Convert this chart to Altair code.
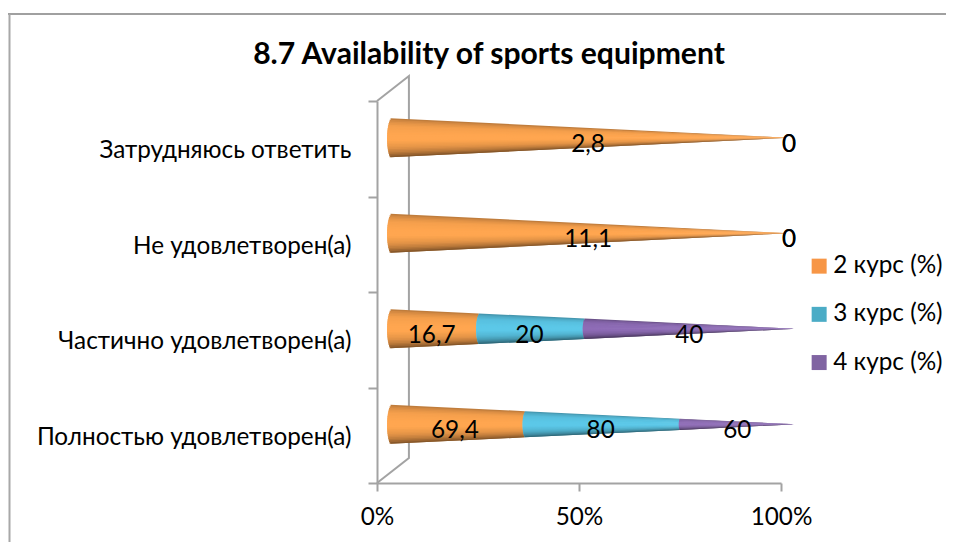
import math
import altair as alt
import pandas as pd

categories = ["Затрудняюсь ответить", "Не удовлетворен(а)", "Частично удовлетворен(а)", "Полностью удовлетворен(а)"]
series = ["2 курс (%)", "3 курс (%)", "4 курс (%)"]
course2 = [2.8, 11.1, 16.7, 69.4]
course3 = [0, 0, 20, 80]
course4 = [0, 0, 40, 60]
value_labels = [["2,8", "0", "0"], ["11,1", "0", "0"], ["16,7", "20", "40"], ["69,4", "80", "60"]]
legend_colors = ["#F79646", "#4BACC6", "#8064A2"]
bright = [(255, 166, 80), (92, 200, 232), (142, 108, 182)]
x_ticks = [0, 0.5, 1]

FONT = "Lato"
FS = 24.3
AXIS = "#A3A3A3"
CONE_START = 0.025
TIP_FULL = 1.037
TIP_SHORT = 1.02
BASE_R = 0.205      # radius in row units
ROW_SHIFT = 0.115   # depth offset in row units
BULGE = 0.012
N = 24
profile = [(-1, .72), (-.85, .85), (-.6, .96), (-.2, 1.0), (.15, 1.0), (.5, .9), (.75, .75), (.92, .58), (1, .48)]


def shade(f):
    for (a, sa), (b, sb) in zip(profile, profile[1:]):
        if a <= f <= b:
            return sa + (sb - sa) * (f - a) / (b - a)
    return 1


rows, labels = [], []
for i, cat in enumerate(categories):
    vals = [course2[i], course3[i], course4[i]]
    tip = TIP_FULL if vals[2] > 0 else TIP_SHORT
    total = sum(vals)
    yc = (len(categories) - 1 - i) + 0.5 + ROW_SHIFT
    cum = 0
    for s, v in enumerate(vals):
        t0, t1 = cum / total, (cum + v) / total
        cum += v
        tm = (t0 + t1) / 2
        labels.append({"x": CONE_START + (tip - CONE_START) * tm, "y": yc, "label": value_labels[i][s]})
        if v == 0:
            continue
        for k in range(N):
            f1, f2 = -1 + 2 * k / N, min(1, -1 + 2 * (k + 2) / N)
            fm = -1 + (2 * k + 1) / N
            m = shade(fm)
            col = "#%02x%02x%02x" % tuple(min(255, int(c * m)) for c in bright[s])
            for t in (t0, t1):
                r = BASE_R * (1 - t)
                rows.append({
                    "key": f"{i:02d}-{s}-{k:03d}", "color": col,
                    "x": CONE_START + (tip - CONE_START) * t + BULGE * (1 - t) * (1 - math.sqrt(max(0, 1 - fm * fm))),
                    "y": yc - f1 * r, "y2": yc - f2 * r,
                })

cones = pd.DataFrame(rows)
label_df = pd.DataFrame(labels)
xs = alt.Scale(domain=[0, 1])
ys = alt.Scale(domain=[0, 4])

x_axis = alt.Axis(values=x_ticks, format=".0%", title=None, grid=False, labelFontSize=FS, labelFont=FONT,
                  labelColor="black", domainColor=AXIS, tickColor=AXIS, domainWidth=2, tickWidth=2,
                  tickSize=8, labelPadding=14, labelFlush=False)
X = alt.X("x:Q", scale=xs, axis=x_axis)
Y = alt.Y("y:Q", scale=ys, axis=None)

base = alt.Chart(pd.DataFrame({"cat": categories, "x": [0] * 4})).mark_point(opacity=0).encode(
    x=X,
    y=alt.Y("cat:N", sort=categories, title=None,
            scale=alt.Scale(type="band", paddingInner=0, paddingOuter=0),
            axis=alt.Axis(tickBand="extent", grid=False, labelFontSize=FS, labelFont=FONT, labelColor="black",
                          domainColor=AXIS, tickColor=AXIS, domainWidth=2, tickWidth=2, tickSize=9,
                          labelPadding=17, labelLimit=400, labelOffset=2)),
)

wall = pd.DataFrame({"x": [0, .079, .079, 0], "y": [4, 4.262, 0.262, 0], "o": [0, 1, 2, 3]})
wall_line = alt.Chart(wall).mark_line(color=AXIS, strokeWidth=2, clip=False).encode(x=X, y=Y, order="o:Q")

cone = alt.Chart(cones).mark_area(orient="vertical").encode(
    x=X, y=Y, y2="y2:Q", detail="key:N",
    fill=alt.Fill("color:N", scale=None),
)

text = alt.Chart(label_df).mark_text(font=FONT, fontSize=FS, color="black", dy=7).encode(x=X, y=Y, text="label:N")

legend_pts = alt.Chart(pd.DataFrame({"s": series, "x": [0] * 3, "y": [0] * 3})).mark_square(size=0).encode(
    x=X, y=Y,
    color=alt.Color("s:N", scale=alt.Scale(domain=series, range=legend_colors),
                    legend=alt.Legend(title=None, orient="none", legendX=430, legendY=153, symbolType="square",
                                      symbolSize=225, symbolOpacity=1, symbolStrokeWidth=0, labelFontSize=FS,
                                      labelFont=FONT, labelColor="black", rowPadding=23.2, labelOffset=2)),
)

frame = pd.DataFrame({"a": [0]})
top = alt.Chart(frame).mark_rule(color="#A0A0A0", strokeWidth=2).encode(
    x=alt.value(-369), x2=alt.value(600), y=alt.value(-87))
left = alt.Chart(frame).mark_rule(color="#A8A8A8", strokeWidth=2).encode(
    x=alt.value(-367.5), y=alt.value(-87), y2=alt.value(460))

title = alt.Chart(frame).mark_text(font=FONT, fontSize=30.1, fontWeight="bold", color="black").encode(
    x=alt.value(112), y=alt.value(-46), text=alt.value("8.7 Availability of sports equipment"))

chart = alt.layer(base, wall_line, cone, text, legend_pts, top, left, title).resolve_scale(
    y="independent", color="independent"
).properties(
    width=404, height=382,
    autosize=alt.AutoSizeParams(type="none"),
    padding={"left": 369, "top": 93, "right": 165, "bottom": 59},
).configure_view(stroke=None)

chart.save("out.html", embed_options={"renderer": "svg", "actions": False})
